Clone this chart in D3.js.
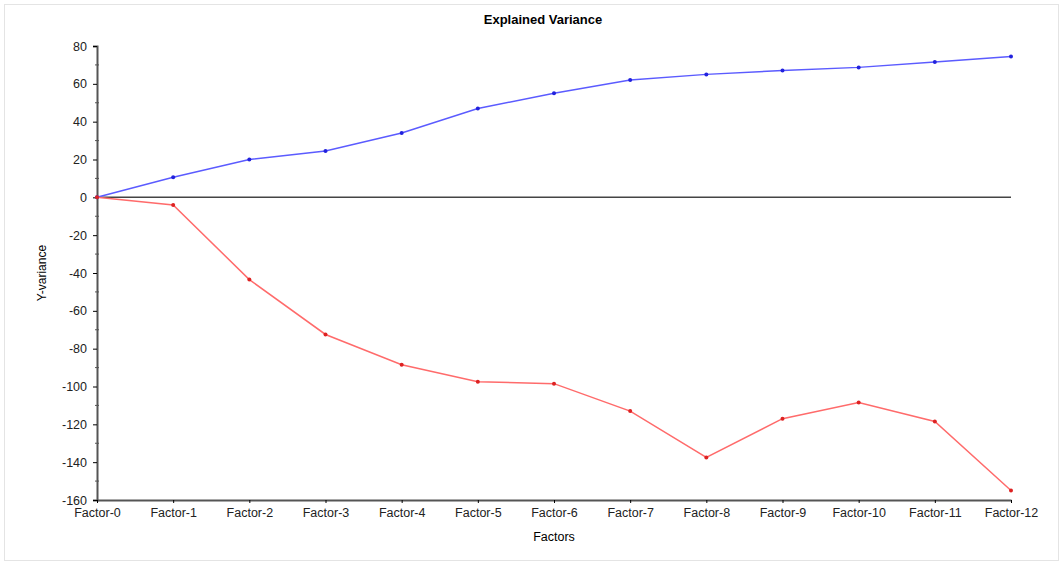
<!DOCTYPE html>
<html><head><meta charset="utf-8">
<script src="https://cdn.jsdelivr.net/npm/d3@7"></script>
<style>body{margin:0;background:#fff}text{font-family:"Liberation Sans",Arial,sans-serif}</style>
</head><body>
<script>
var w = 1063, h = 565;
var factors = d3.range(13).map(function(i){ return "Factor-" + i; });
var blueVals = [0, 10.6, 20, 24.5, 34, 47, 55, 62, 65, 67, 68.7, 71.5, 74.5];
var redVals = [0, -4, -43.5, -72.5, -88.5, -97.5, -98.5, -113, -137.5, -117, -108.5, -118.5, -155];
var yTicks = d3.range(-160, 81, 20);

var x = d3.scalePoint().domain(factors).range([97, 1011]);
var y = d3.scaleLinear().domain([-160, 80]).range([500, 46]);

var svg = d3.select("body").append("svg").attr("width", w).attr("height", h);
svg.append("rect").attr("x", 4.5).attr("y", 4.5).attr("width", 1054).attr("height", 556)
  .attr("fill", "none").attr("stroke", "#e4e4e4");

svg.append("text").text("Explained Variance").attr("x", 543).attr("y", 24)
  .attr("text-anchor", "middle").attr("font-size", 13).attr("font-weight", "bold");

var yAxis = svg.append("g").attr("transform", "translate(97,0)")
  .call(d3.axisLeft(y).tickValues(yTicks).tickFormat(function(d){ return String(d); }).tickSize(4).tickPadding(6));
yAxis.select(".domain").attr("stroke", "#555").attr("stroke-width", 2);
yAxis.selectAll("text").attr("font-size", 12.5).attr("fill", "#222");
svg.append("g").selectAll("line").data(d3.range(-150, 80, 20)).enter().append("line")
  .attr("x1", 95).attr("x2", 99).attr("y1", function(d){ return y(d); }).attr("y2", function(d){ return y(d); })
  .attr("stroke", "#555");

var xAxis = svg.append("g").attr("transform", "translate(0,500)")
  .call(d3.axisBottom(x).tickSize(3).tickSizeOuter(0).tickPadding(5));
xAxis.select(".domain").attr("stroke", "#555").attr("stroke-width", 2);
xAxis.selectAll("text").attr("font-size", 12.5).attr("fill", "#222");

svg.append("text").text("Factors").attr("x", 554).attr("y", 541).attr("text-anchor", "middle").attr("font-size", 12.5);
svg.append("text").text("Y-variance").attr("transform", "translate(46,273) rotate(-90)")
  .attr("text-anchor", "middle").attr("font-size", 12);

svg.append("line").attr("x1", 97).attr("x2", 1011).attr("y1", y(0)).attr("y2", y(0))
  .attr("stroke", "#444").attr("stroke-width", 1.5);

var line = d3.line().x(function(d, i){ return x(factors[i]); }).y(function(d){ return y(d); });
[[blueVals, "#5b5bff", "#2222dd"], [redVals, "#ff6b6b", "#dd2222"]].forEach(function(s){
  svg.append("path").attr("d", line(s[0])).attr("fill", "none").attr("stroke", s[1]).attr("stroke-width", 1.5);
  svg.append("g").selectAll("circle").data(s[0]).enter().append("circle")
    .attr("cx", function(d, i){ return x(factors[i]); }).attr("cy", function(d){ return y(d); })
    .attr("r", 2).attr("fill", s[2]);
});
</script>
</body></html>
